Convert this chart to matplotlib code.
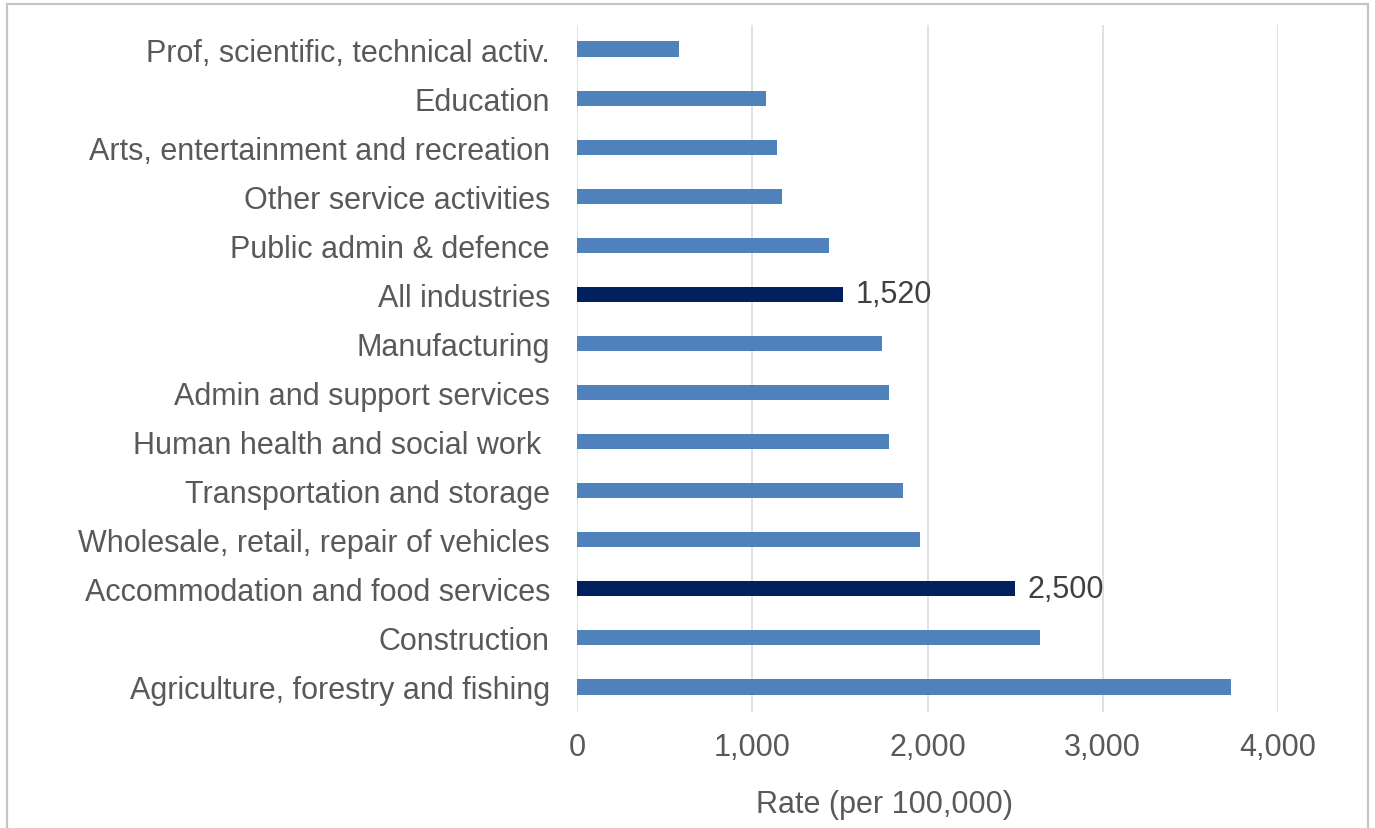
import matplotlib
matplotlib.use("Agg")
import matplotlib.pyplot as plt
from matplotlib.patches import Rectangle

plt.rcParams['font.family'] = ['Liberation Sans', 'DejaVu Sans']

# Industries listed bottom-to-top as drawn
industries = [
    "Agriculture, forestry and fishing",
    "Construction",
    "Accommodation and food services",
    "Wholesale, retail, repair of vehicles",
    "Transportation and storage",
    "Human health and social work ",
    "Admin and support services",
    "Manufacturing",
    "All industries",
    "Public admin & defence",
    "Other service activities",
    "Arts, entertainment and recreation",
    "Education",
    "Prof, scientific, technical activ.",
]
rates = [3730, 2640, 2500, 1960, 1860, 1780, 1780, 1740, 1520, 1440, 1170, 1140, 1080, 580]
highlighted = ["All industries", "Accommodation and food services"]
x_ticks = [0, 1000, 2000, 3000, 4000]
x_tick_labels = ["0", "1,000", "2,000", "3,000", "4,000"]

base_color = "#4f81bd"
highlight_color = "#002060"
text_color = "#595959"
fs = 22

W, H = 1375, 829
fig = plt.figure(figsize=(W / 100, H / 100), dpi=100)
fig.patch.set_facecolor("white")

# Outer chart frame
fig.add_artist(Rectangle((7 / W, -0.02), (1368 - 7) / W, 1 - 5 / H + 0.02,
                         transform=fig.transFigure, fill=False,
                         edgecolor="#c4c4c4", linewidth=1.6))

ax = fig.add_axes([577 / W, 1 - 712.5 / H, (1278 - 577) / W, (712.5 - 25.5) / H])

colors = [highlight_color if n in highlighted else base_color for n in industries]
ypos = list(range(len(industries)))
ax.barh(ypos, rates, height=0.31, color=colors, zorder=3)

for y, n, v in zip(ypos, industries, rates):
    if n in highlighted:
        ax.text(v + 70, y, f"{v:,}", va="center", ha="left",
                fontsize=fs, color="#404040")

ax.set_xlim(0, 4000)
ax.set_ylim(-0.5, len(industries) - 0.5)
ax.set_yticks(ypos)
ax.set_yticklabels(industries, fontsize=fs, color=text_color)
ax.set_xticks(x_ticks)
ax.set_xticklabels(x_tick_labels, fontsize=fs, color=text_color)
ax.tick_params(axis="y", length=0, pad=19.5)
ax.tick_params(axis="x", length=0, pad=15)
ax.grid(axis="x", color="#d9d9d9", linewidth=1.1, zorder=0)
for s in ax.spines.values():
    s.set_visible(False)

fig.text(885 / W, 1 - 805 / H, "Rate (per 100,000)", ha="center", va="center",
         fontsize=fs, color=text_color)

fig.savefig("out.png", dpi=100, facecolor="white")
